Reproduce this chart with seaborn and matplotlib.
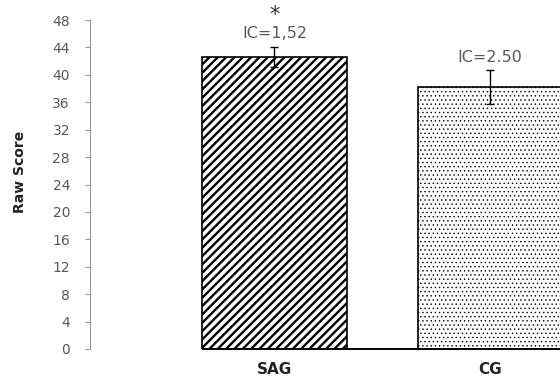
import pandas as pd
import matplotlib
matplotlib.use("Agg")
import matplotlib.pyplot as plt
import seaborn as sns

groups = ["SAG", "CG"]
scores = [42.6, 38.2]
errors = [1.52, 2.50]
ic_labels = ["IC=1,52", "IC=2.50"]
marks = ["*", ""]
hatches = ["////", "...."]
hatch_widths = [1.7, 0.5]
hatch_colors = ["black", "#444444"]

df = pd.DataFrame({"group": groups, "score": scores})

sns.set_style("white")
plt.rcParams["font.family"] = ["DejaVu Sans"]
plt.rcParams["hatch.linewidth"] = 1.7

fig = plt.figure(figsize=(5.6, 3.81), dpi=100)
ax = fig.add_axes([90 / 560, 1 - 349 / 381, 1 - 90 / 560, (349 - 20) / 381])

sns.barplot(data=df, x="group", y="score", color="white", width=0.67,
            edgecolor="black", linewidth=1.2, ax=ax)

for bar, h, lw, hc in zip(ax.patches, hatches, hatch_widths, hatch_colors):
    bar.set_hatch(h)
    if hasattr(bar, "set_hatch_linewidth"):
        bar.set_hatch_linewidth(lw)
    if hasattr(bar, "set_hatchcolor"):
        bar.set_hatchcolor(hc)

ax.errorbar(range(len(groups)), scores, yerr=errors, fmt="none",
            ecolor="black", elinewidth=1.0, capsize=3, capthick=1.0)

gray = "#595959"
for i in range(len(groups)):
    top = scores[i] + errors[i]
    ax.text(i, top + 0.8, ic_labels[i], ha="center", va="bottom",
            fontsize=11.5, color=gray)
    if marks[i]:
        ax.text(i, top + 3.2, marks[i], ha="center", va="bottom",
                fontsize=15, color="#333333")

ax.set_ylim(0, 48)
ax.set_xlim(-0.856, 1.325)
ax.set_yticks(range(0, 49, 4))
ax.set_xlabel("")
ax.set_ylabel("Raw Score", fontsize=10, fontweight="bold", color="#222222")
ax.yaxis.set_label_coords(-0.134, 0.538)

# baseline only under the bars, like the original
ax.hlines(0, ax.patches[0].get_x(), ax.get_xlim()[1], color="black",
          linewidth=1.4, clip_on=False, zorder=5)

for side in ["top", "right", "bottom"]:
    ax.spines[side].set_visible(False)
ax.spines["left"].set_color("#999999")
ax.spines["left"].set_linewidth(0.8)

ax.tick_params(axis="y", left=True, length=3.6, color="#999999", labelsize=10,
               labelcolor=gray, pad=10.8)
ax.tick_params(axis="x", bottom=False, labelsize=11, pad=6)
for lbl in ax.get_xticklabels():
    lbl.set_fontweight("bold")
    lbl.set_color("#222222")

fig.savefig("out.png", dpi=100)
